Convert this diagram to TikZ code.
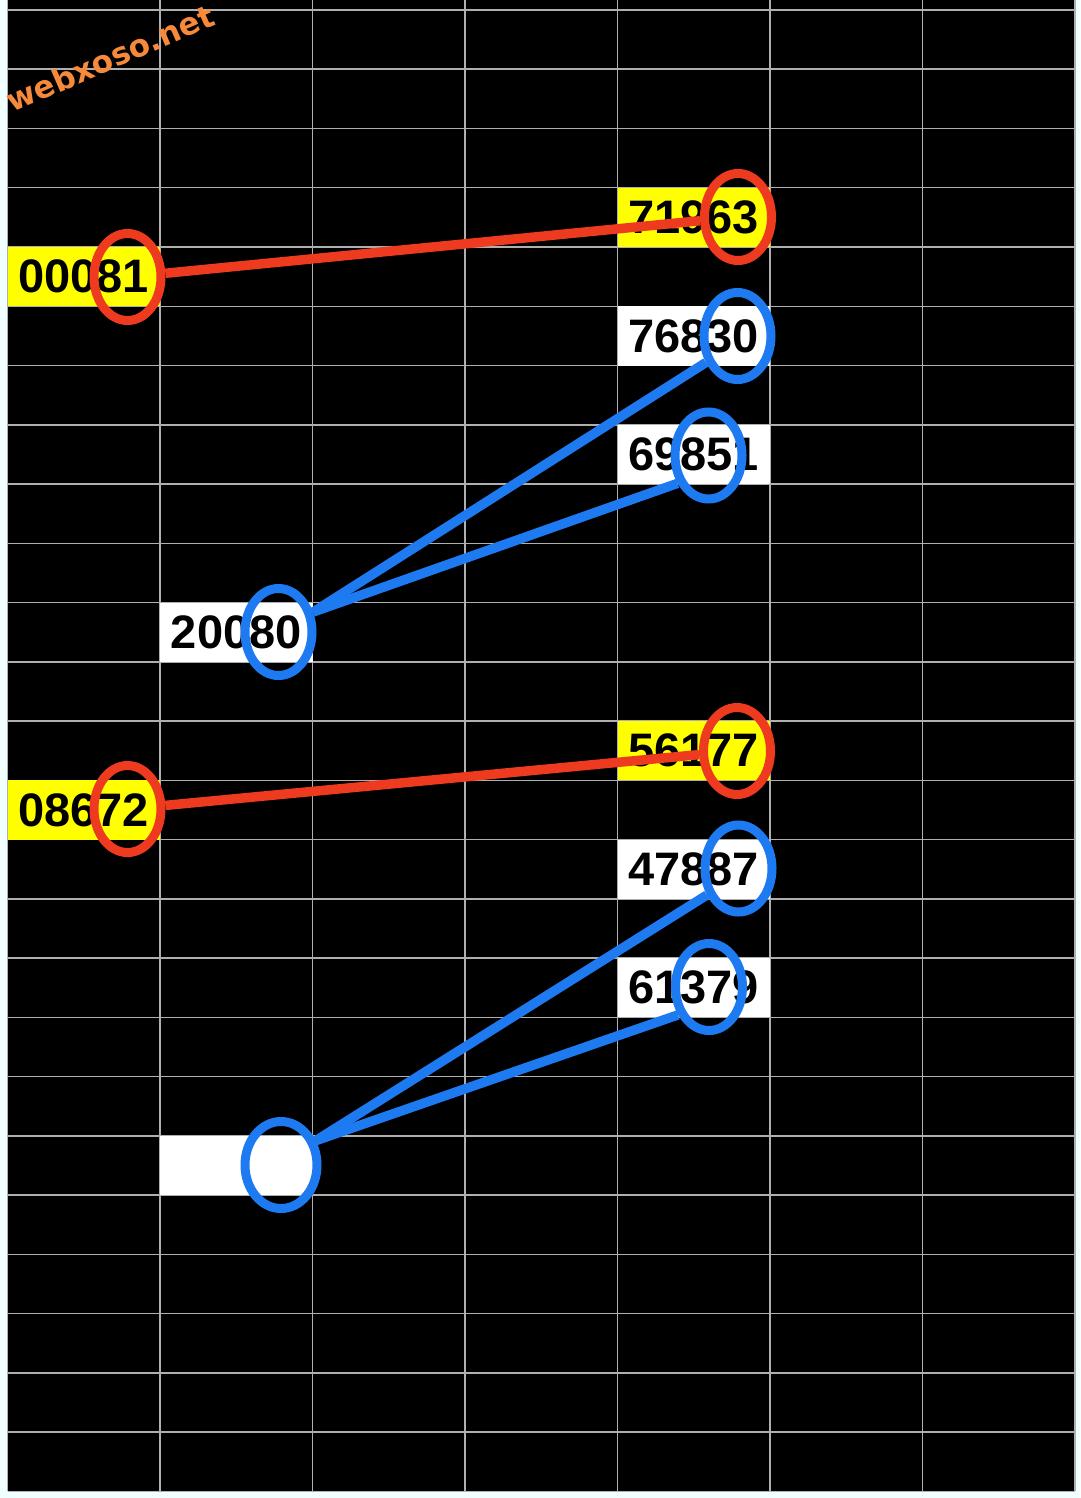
\documentclass[tikz,border=0pt]{standalone}
\usepackage{fontspec}
\setmainfont{Liberation Sans}
\newfontfamily\markfont{DejaVu Sans}
\usetikzlibrary{shapes.geometric}
\definecolor{bgcyan}{RGB}{240,255,255}
\definecolor{gridgray}{RGB}{175,175,175}
\definecolor{hlyellow}{RGB}{255,255,0}
\definecolor{ringred}{RGB}{238,58,30}
\definecolor{ringblue}{RGB}{30,122,240}
\definecolor{markorange}{RGB}{247,137,59}
\tikzset{
    cell/.style={rectangle, inner sep=0pt, minimum width=152.5pt, minimum height=59.25pt,
        font=\fontsize{47}{47}\selectfont\bfseries},
    ycell/.style={cell, fill=hlyellow},
    wcell/.style={cell, fill=white},
    ring/.style={ellipse, draw, inner sep=0pt, line width=9pt, minimum width=67pt, minimum height=87pt},
    redring/.style={ring, draw=ringred},
    bluering/.style={ring, draw=ringblue},
    redlink/.style={draw=ringred, line width=9.5pt},
    bluelink/.style={draw=ringblue, line width=9.5pt}
}
\begin{document}
\begin{tikzpicture}[x=1pt, y=-1pt]
    \useasboundingbox (0,0) rectangle (1080,1498);
    \fill[bgcyan] (0,0) rectangle (1080,1498);
    \fill[black] (7.5,0) rectangle (1075,1491.25);

    % grid
    \foreach \i in {0,...,25}
        \draw[gridgray, line width=1.5pt] (7.5,{10+59.25*\i}) -- (1075,{10+59.25*\i});
    \foreach \j in {0,...,7}
        \draw[gridgray, line width=1.2pt] ({7.5+152.5*\j},0) -- ({7.5+152.5*\j},1491.25);

    % watermark
    \node[rotate=23.5, text=markorange, font=\markfont\bfseries\fontsize{31}{31}\selectfont] (mark) at (110,58) {webxoso.net};

    % numbers
    \node[ycell] (n00081) at (83.75, 276.625) {00081};
    \node[ycell] (n71963) at (693.75, 217.375) {71963};
    \node[wcell] (n76830) at (693.75, 335.875) {76830};
    \node[wcell] (n69851) at (693.75, 454.375) {69851};
    \node[wcell] (n20080) at (236.25, 632.125) {20080};
    \node[ycell] (n56177) at (693.75, 750.625) {56177};
    \node[ycell] (n08672) at (83.75, 809.875) {08672};
    \node[wcell] (n47887) at (693.75, 869.125) {47887};
    \node[wcell] (n61379) at (693.75, 987.625) {61379};
    \node[wcell] (nblank) at (236.25, 1165.375) {};

    % rings
    \node[redring] (c81) at (127.5, 277) {};
    \node[redring] (c63) at (738, 217) {};
    \node[bluering] (c30) at (737.5, 336) {};
    \node[bluering] (c51) at (708.5, 455.5) {};
    \node[bluering] (c80) at (278.5, 632) {};
    \node[redring] (c77) at (737, 751) {};
    \node[redring] (c72) at (127.5, 809) {};
    \node[bluering] (c87) at (738.5, 868.5) {};
    \node[bluering] (c79) at (709, 987) {};
    \node[bluering, minimum width=72pt] (cblank) at (281, 1165) {};

    % links
    \draw[redlink] (c81) -- (c63);
    \draw[redlink] (c72) -- (c77);
    \draw[bluelink] (c80.30) -- (c30.220);
    \draw[bluelink] (c80.30) -- (c51.222);
    \draw[bluelink] (cblank.35) -- (c87.220);
    \draw[bluelink] (cblank.35) -- (c79.222);
\end{tikzpicture}
\end{document}
